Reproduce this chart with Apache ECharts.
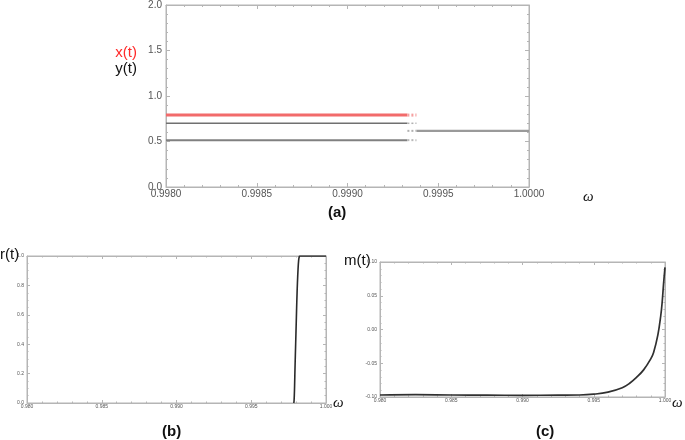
<!DOCTYPE html>
<html>
<head>
<meta charset="utf-8">
<script src="https://cdn.jsdelivr.net/npm/echarts@6/dist/echarts.min.js"></script>
<style>
html,body{margin:0;padding:0;background:#fff;}
#c{width:685px;height:440px;}
</style>
</head>
<body>
<div id="c"></div>
<script>
// ---- Panel (a) data ----
const omegaLeftSolid = [0.9980, 0.99933];
const omegaLeftDotted = [0.99933, 0.99938];
const omegaRightDotted = [0.99933, 0.99938];
const omegaRightSolid = [0.99938, 1.0000];
const xLeftLevel = 0.79;
const yLeftHigh = 0.70;
const yLeftLow = 0.515;
const yRightLevel = 0.617;

// ---- Panel (b) data: r(t) ----
const omegaR = [0.99784, 0.99786, 0.99788, 0.99790, 0.99793, 0.99797, 0.99801, 0.99805, 0.99809, 0.99813, 0.99817, 0.99821, 0.99825, 0.99850, 0.99900, 0.99950, 1.0000];
const rVals  = [0.00,    0.01,    0.05,    0.12,    0.25,    0.40,    0.55,    0.70,    0.82,    0.91,    0.97,    0.995,   1.00,    1.00,    1.00,    1.00,    1.00];

// ---- Panel (c) data: m(t) ----
const omegaM = [0.9800, 0.9825, 0.9850, 0.9875, 0.9900, 0.9925, 0.9940, 0.9950, 0.9960, 0.9970, 0.9975, 0.9980, 0.9985, 0.9990, 0.9992, 0.9995, 0.9997, 0.9998, 0.9999, 1.0000];
const mVals  = [-0.097, -0.0965, -0.097, -0.0972, -0.0975, -0.0972, -0.097, -0.0958, -0.0928, -0.0862, -0.080, -0.071, -0.0598, -0.0435, -0.034, -0.008, 0.020, 0.040, 0.068, 0.092];

const zip = (a, b) => a.map((v, i) => [v, b[i]]);
const flat = (xs, v) => xs.map(x => [x, v]);

const frameColor = '#b5b5b5';
const labelColor = '#555';

function makeAxis(gridIndex, min, max, interval, minorSplit, digits, fontSize, position, labelMargin, showLabel, tickLen) {
  return {
    type: 'value', gridIndex, min, max, interval, position,
    axisLine: { show: true, onZero: false, lineStyle: { color: frameColor, width: 1 } },
    axisTick: { show: true, inside: true, length: tickLen, lineStyle: { color: frameColor } },
    minorTick: { show: true, splitNumber: minorSplit, length: tickLen / 2, lineStyle: { color: frameColor } },
    splitLine: { show: false },
    minorSplitLine: { show: false },
    axisLabel: {
      show: showLabel, color: labelColor, fontSize, fontFamily: 'Liberation Sans, Arial, sans-serif',
      margin: labelMargin,
      formatter: v => v.toFixed(digits)
    }
  };
}

const xAxes = [
  makeAxis(0, 0.998, 1.0, 0.0005, 5, 4, 10, 'bottom', 2, true, 4),
  makeAxis(0, 0.998, 1.0, 0.0005, 5, 4, 10, 'top', 2, false, 4),
  makeAxis(1, 0.98, 1.0, 0.005, 5, 3, 5, 'bottom', 1, true, 3),
  makeAxis(1, 0.98, 1.0, 0.005, 5, 3, 5, 'top', 1, false, 3),
  makeAxis(2, 0.98, 1.0, 0.005, 5, 3, 5, 'bottom', 1, true, 3),
  makeAxis(2, 0.98, 1.0, 0.005, 5, 3, 5, 'top', 1, false, 3)
];
const yAxes = [
  makeAxis(0, 0, 2, 0.5, 5, 1, 10, 'left', 4, true, 4),
  makeAxis(0, 0, 2, 0.5, 5, 1, 10, 'right', 4, false, 4),
  makeAxis(1, 0, 1, 0.2, 4, 1, 5, 'left', 3, true, 3),
  makeAxis(1, 0, 1, 0.2, 4, 1, 5, 'right', 3, false, 3),
  makeAxis(2, -0.10, 0.10, 0.05, 5, 2, 5, 'left', 3, true, 3),
  makeAxis(2, -0.10, 0.10, 0.05, 5, 2, 5, 'right', 3, false, 3)
];

const chart = echarts.init(document.getElementById('c'), null, { renderer: 'canvas' });

const lineBase = { type: 'line', showSymbol: false, symbol: 'none', animation: false, silent: true };
const gridFrame = { show: true, borderColor: frameColor, borderWidth: 1, backgroundColor: 'transparent' };

const option = {
  animation: false,
  grid: [
    Object.assign({ left: 166, top: 5, width: 363, height: 182 }, gridFrame),
    Object.assign({ left: 27, top: 256, width: 299, height: 147 }, gridFrame),
    Object.assign({ left: 380, top: 262, width: 285, height: 135 }, gridFrame)
  ],
  xAxis: xAxes,
  yAxis: yAxes,
  series: [
    Object.assign({}, lineBase, { xAxisIndex: 0, yAxisIndex: 0, data: flat(omegaLeftSolid, xLeftLevel), lineStyle: { color: '#f26b6b', width: 3 } }),
    Object.assign({}, lineBase, { xAxisIndex: 0, yAxisIndex: 0, data: flat(omegaLeftDotted, xLeftLevel), lineStyle: { color: '#f5a0a0', width: 3, type: [2, 2] } }),
    Object.assign({}, lineBase, { xAxisIndex: 0, yAxisIndex: 0, data: flat(omegaLeftSolid, yLeftHigh), lineStyle: { color: '#707070', width: 1.5 } }),
    Object.assign({}, lineBase, { xAxisIndex: 0, yAxisIndex: 0, data: flat(omegaLeftDotted, yLeftHigh), lineStyle: { color: '#b0b0b0', width: 1.5, type: [2, 2] } }),
    Object.assign({}, lineBase, { xAxisIndex: 0, yAxisIndex: 0, data: flat(omegaLeftSolid, yLeftLow), lineStyle: { color: '#808080', width: 2 } }),
    Object.assign({}, lineBase, { xAxisIndex: 0, yAxisIndex: 0, data: flat(omegaLeftDotted, yLeftLow), lineStyle: { color: '#b8b8b8', width: 2, type: [2, 2] } }),
    Object.assign({}, lineBase, { xAxisIndex: 0, yAxisIndex: 0, data: flat(omegaRightDotted, yRightLevel), lineStyle: { color: '#b0b0b0', width: 2, type: [2, 2] } }),
    Object.assign({}, lineBase, { xAxisIndex: 0, yAxisIndex: 0, data: flat(omegaRightSolid, yRightLevel), lineStyle: { color: '#9a9a9a', width: 2.2 } }),
    Object.assign({}, lineBase, { xAxisIndex: 2, yAxisIndex: 2, data: zip(omegaR, rVals), smooth: 0.3, lineStyle: { color: '#2a2a2a', width: 1.6 } }),
    Object.assign({}, lineBase, { xAxisIndex: 4, yAxisIndex: 4, data: zip(omegaM, mVals), smooth: 0.4, lineStyle: { color: '#303030', width: 1.7 } }),
    // invisible anchors so the top/right frame axes are bound to data
    Object.assign({}, lineBase, { xAxisIndex: 1, yAxisIndex: 1, data: flat(omegaRightSolid, yRightLevel), lineStyle: { opacity: 0 } }),
    Object.assign({}, lineBase, { xAxisIndex: 3, yAxisIndex: 3, data: zip(omegaR, rVals), lineStyle: { opacity: 0 } }),
    Object.assign({}, lineBase, { xAxisIndex: 5, yAxisIndex: 5, data: zip(omegaM, mVals), lineStyle: { opacity: 0 } })
  ],
  graphic: [
    { type: 'text', right: 548, top: 45, style: { text: 'x(t)', fill: '#ff2a2a', font: '15px "Liberation Sans", Arial, sans-serif' } },
    { type: 'text', right: 548, top: 61, style: { text: 'y(t)', fill: '#111', font: '15px "Liberation Sans", Arial, sans-serif' } },
    { type: 'text', left: 583, top: 190, style: { text: 'ω', fill: '#111', font: 'italic 15px "Liberation Serif", serif' } },
    { type: 'text', left: 328, top: 205, style: { text: '(a)', fill: '#111', font: 'bold 15px "Liberation Sans", Arial, sans-serif' } },
    { type: 'text', left: 0, top: 247, style: { text: 'r(t)', fill: '#111', font: '15px "Liberation Sans", Arial, sans-serif' } },
    { type: 'text', left: 333, top: 396, style: { text: 'ω', fill: '#111', font: 'italic 15px "Liberation Serif", serif' } },
    { type: 'text', left: 162, top: 424, style: { text: '(b)', fill: '#111', font: 'bold 15px "Liberation Sans", Arial, sans-serif' } },
    { type: 'text', left: 344, top: 253, style: { text: 'm(t)', fill: '#111', font: '15px "Liberation Sans", Arial, sans-serif' } },
    { type: 'text', left: 672, top: 396, style: { text: 'ω', fill: '#111', font: 'italic 15px "Liberation Serif", serif' } },
    { type: 'text', left: 536, top: 424, style: { text: '(c)', fill: '#111', font: 'bold 15px "Liberation Sans", Arial, sans-serif' } }
  ]
};

chart.setOption(option);
</script>
</body>
</html>
